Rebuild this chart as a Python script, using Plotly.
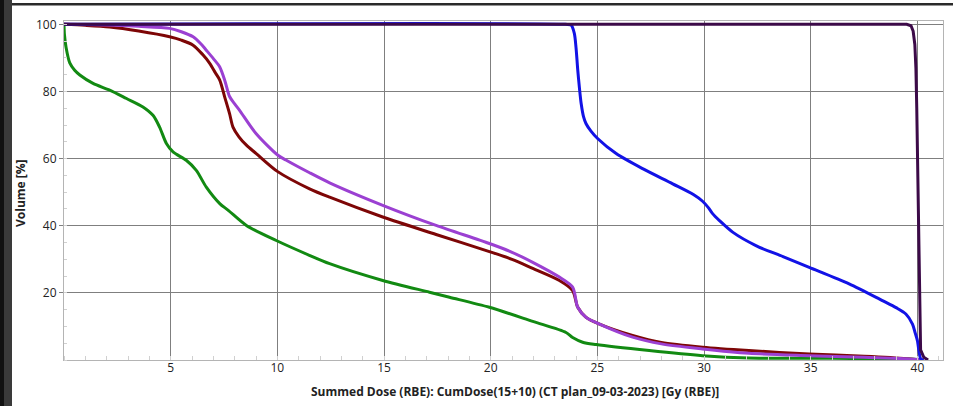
import plotly.graph_objects as go

# Cumulative dose-volume histogram: dose in Gy (RBE), volume in %
dose_purple = [0, 39.5, 39.7, 39.8, 39.88, 39.93, 39.97, 40.0, 40.08, 40.15, 40.3, 40.5]
vol_purple = [100, 100, 99.6, 98, 94, 87, 75, 62, 30, 3, 0.8, 0]

dose_blue = [0, 23.5, 23.77, 23.92, 24.0, 24.08, 24.16, 24.24, 24.35, 24.47, 24.7, 25.01,
             25.88, 27.12, 28.53, 29.5, 29.93, 30.2, 30.4, 30.71, 31.34, 32.43, 33.7,
             34.93, 36.8, 38.36, 39.0, 39.46, 39.77, 39.9, 40.0, 40.16, 40.3]
vol_blue = [100, 100, 99.8, 97.3, 93, 86.4, 81, 76.4, 72.5, 70.4, 68.2, 66,
            61.5, 57, 52.5, 49.3, 47.3, 45.4, 43.6, 41.6, 38.1, 34.1, 30.8,
            27.6, 22.7, 17.7, 15.6, 13.7, 10.7, 8, 5.8, 0.3, 0]

dose_red = [0, 1.0, 2.14, 3.5, 4.95, 5.5, 6.05, 6.5, 6.83, 7.1, 7.3, 7.53, 7.76, 7.92,
            8.2, 8.55, 9.01, 10.0, 11.51, 12.45, 14.94, 17.44, 19.94, 21.0, 21.97,
            23.22, 23.84, 24.08, 24.47, 25.1, 26.65, 28.0, 29.93, 32.1, 34.93, 37.5,
            39.5, 40.2]
vol_red = [100, 99.7, 99.2, 98, 96.3, 95.3, 93.8, 91, 88.4, 85.5, 83.4, 78.4, 73.4, 69.4,
           66.5, 64.0, 61.5, 56.2, 51.0, 48.5, 42.6, 37.4, 32.3, 30, 27.3,
           23.7, 20.7, 15.7, 12.7, 10.7, 7.3, 5.2, 3.8, 2.8, 1.8, 1.1,
           0.4, 0]

dose_violet = [0, 2.0, 3.5, 4.95, 5.5, 6.05, 6.4, 6.67, 7.0, 7.3, 7.55, 7.76, 8.0, 8.23,
               9.0, 10.03, 10.4, 11.51, 12.45, 14.94, 17.44, 19.94, 21.0, 21.97, 23.22,
               23.84, 24.08, 24.47, 25.1, 26.65, 28.0, 29.93, 32.1, 34.93, 37.5, 39.5, 40.3]
vol_violet = [100, 99.8, 99.4, 98.8, 97.8, 96.3, 94.3, 92.3, 89.8, 87.3, 83, 78.5, 76.3, 74.4,
              67.5, 61, 59.6, 55.8, 52.8, 46.1, 40.1, 34.7, 32.1, 29.1, 24.7,
              21.7, 15.7, 12.7, 10.7, 6.8, 4.8, 3.3, 2.0, 1.3, 0.8, 0.4, 0]

dose_green = [0, 0.02, 0.1, 0.27, 0.5, 0.74, 1.36, 2.14, 2.93, 3.7, 4.17, 4.48, 4.8, 5.11,
              5.73, 6.2, 6.67, 7.3, 7.7, 8.55, 9.95, 11.5, 12.45, 14.94, 17.13, 18.07,
              19.94, 21.97, 23.53, 23.84, 24.31, 24.94, 27.43, 29.93, 32.1, 36, 39.6, 40.2]
vol_green = [100, 97, 93, 88.5, 86.3, 84.9, 82.4, 80.4, 77.9, 75.4, 72.9, 69.4, 64.5, 62,
             59.5, 56.5, 51.5, 46.6, 44.6, 40.1, 35.6, 31.2, 28.7, 23.7, 20.2, 18.7,
             15.7, 11.5, 8.2, 6.7, 5.3, 4.6, 2.8, 1.3, 0.6, 0.5, 0.3, 0]

x_ticks = [5, 10, 15, 20, 25, 30, 35, 40]
y_ticks = [20, 40, 60, 80, 100]

W, H = 953, 406
ML, MR, MT, MB = 64, 10, 21, 46
PW, PH = W - ML - MR, H - MT - MB


def px(x):
    return (x - ML) / PW


def py(y):
    return (H - MB - y) / PH


# (dose, volume, colour, line shape)
series = [
    (dose_green, vol_green, "#128a12", "spline"),
    (dose_red, vol_red, "#7d0606", "spline"),
    (dose_violet, vol_violet, "#9b40d2", "spline"),
    (dose_blue, vol_blue, "#1212e6", "spline"),
    (dose_purple, vol_purple, "#3c0a48", "linear"),
]

fig = go.Figure()
for d, v, c, shp in series:
    line = dict(color=c, width=3, shape=shp)
    if shp == "spline":
        line["smoothing"] = 0.8
    fig.add_trace(go.Scatter(x=d, y=v, mode="lines", line=line,
                             showlegend=False, hoverinfo="skip"))

font = "Open Sans, Noto Sans, sans-serif"

fig.update_layout(
    width=W, height=H,
    margin=dict(l=ML, r=MR, t=MT, b=MB, pad=0),
    paper_bgcolor="white", plot_bgcolor="white",
    font=dict(family=font, size=12, color="#222222"),
    xaxis=dict(range=[0, 41.2], tickvals=x_ticks, showgrid=True, gridcolor="#7f7f7f",
               gridwidth=1, zeroline=False, showline=True, mirror=True,
               linecolor="#b4b4b4", linewidth=1, ticks="", ticklabelstandoff=-3,
               minor=dict(tick0=0, dtick=1, ticks="inside", ticklen=4,
                          tickcolor="#d0d0d0", showgrid=False)),
    yaxis=dict(range=[0, 101], tickvals=y_ticks, showgrid=True, gridcolor="#7f7f7f",
               gridwidth=1, zeroline=False, showline=True, mirror=True,
               linecolor="#b4b4b4", linewidth=1, ticks="outside", ticklen=4,
               tickcolor="#7f7f7f",
               minor=dict(tick0=0, dtick=5, ticks="inside", ticklen=3,
                          tickcolor="#d0d0d0", showgrid=False)),
    annotations=[
        dict(text="<b>Summed Dose (RBE): CumDose(15+10) (CT plan_09-03-2023) [Gy (RBE)]</b>",
             xref="paper", yref="paper", x=px(514.5), y=py(391), xanchor="center",
             yanchor="middle", showarrow=False, font=dict(size=12, color="#222222")),
        dict(text="<b>Volume [%]</b>", xref="paper", yref="paper", x=px(20), y=py(193),
             xanchor="center", yanchor="middle", textangle=-90, showarrow=False,
             font=dict(size=12, color="#222222")),
    ],
    shapes=[
        dict(type="rect", xref="paper", yref="paper", x0=px(0), x1=px(4), y0=py(H), y1=py(0),
             fillcolor="#111111", line=dict(width=0), layer="above"),
        dict(type="rect", xref="paper", yref="paper", x0=px(4), x1=px(12), y0=py(H), y1=py(0),
             fillcolor="#3a3a3a", line=dict(width=0), layer="above"),
        dict(type="rect", xref="paper", yref="paper", x0=px(12), x1=px(W), y0=py(5.5), y1=py(3),
             fillcolor="#2a2a2a", line=dict(width=0), layer="above"),
    ],
)

fig.write_html("out.html")
